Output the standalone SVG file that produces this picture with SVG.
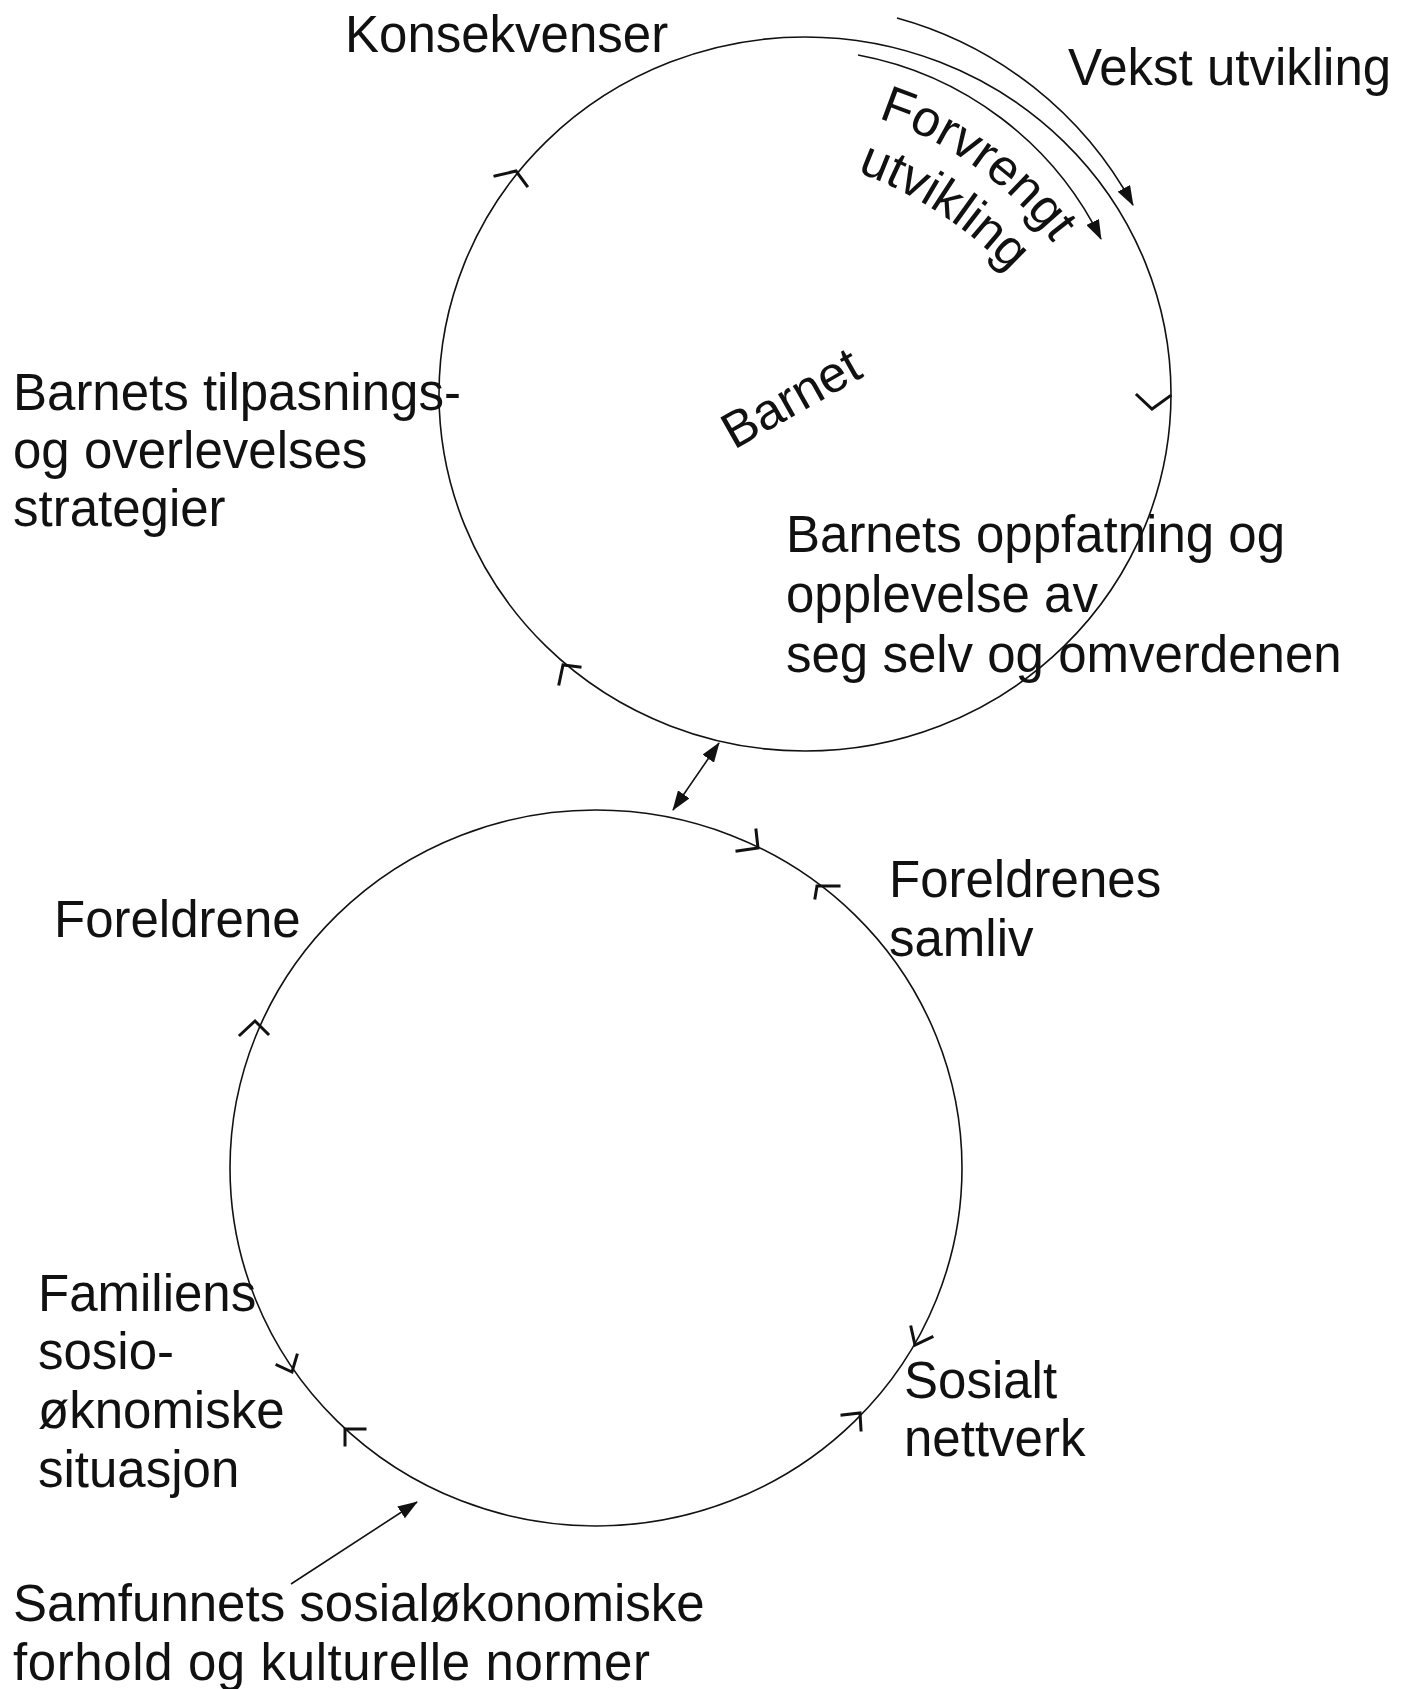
<svg xmlns="http://www.w3.org/2000/svg" width="1413" height="1689" viewBox="0 0 1413 1689">
<style>
.t{font-family:"Liberation Sans",Arial,sans-serif;font-size:51px;fill:#111}
.c{fill:none;stroke:#111;stroke-width:1.6}
.k{fill:none;stroke:#111;stroke-width:3;stroke-linecap:square;stroke-linejoin:miter}
.a{fill:none;stroke:#111;stroke-width:1.6}
</style>
<defs>
<marker id="ah" viewBox="0 0 20 14" refX="19" refY="7" markerWidth="20" markerHeight="14" markerUnits="userSpaceOnUse" orient="auto-start-reverse">
<path d="M0,0 L20,7 L0,14 Z" fill="#111"/>
</marker>
<path id="pF" d="M 878 118 A 357 357 0 0 1 1091.5 307"/>
<path id="pU" d="M 857 172 A 400 400 0 0 1 1055.5 330"/>
</defs>
<rect width="1413" height="1689" fill="#fff"/>
<g id="barnet-circle">
<ellipse class="c" cx="805" cy="394" rx="366" ry="357"/>
<text class="t" font-size="64" transform="translate(734,450) rotate(-29.5)">Barnet</text>
</g>
<g id="foreldre-circle">
<ellipse class="c" cx="596" cy="1168" rx="366" ry="358"/>
</g>
<g id="labels">
<text class="t" x="345" y="52">Konsekvenser</text>
<text class="t" x="1068" y="85">Vekst utvikling</text>
<text class="t"><textPath href="#pF">Forvrengt</textPath></text>
<text class="t"><textPath href="#pU">utvikling</textPath></text>
<text class="t" x="13" y="410">Barnets tilpasnings-</text>
<text class="t" x="13" y="468">og overlevelses</text>
<text class="t" x="13" y="526">strategier</text>
<text class="t" x="786" y="552">Barnets oppfatning og</text>
<text class="t" x="786" y="612">opplevelse av</text>
<text class="t" x="786" y="672">seg selv og omverdenen</text>
<text class="t" x="54" y="937">Foreldrene</text>
<text class="t" x="889" y="897">Foreldrenes</text>
<text class="t" x="889" y="956">samliv</text>
<text class="t" x="38" y="1311">Familiens</text>
<text class="t" x="38" y="1369">sosio-</text>
<text class="t" x="38" y="1428">øknomiske</text>
<text class="t" x="38" y="1487">situasjon</text>
<text class="t" x="904" y="1398">Sosialt</text>
<text class="t" x="904" y="1456">nettverk</text>
<text class="t" x="13" y="1621">Samfunnets sosialøkonomiske</text>
<text class="t" x="13" y="1680" letter-spacing="0.6">forhold og kulturelle normer</text>
</g>
<g id="connectors">
<path class="a" d="M 897 18 A 385 385 0 0 1 1133 205" marker-end="url(#ah)"/>
<path class="a" d="M 858 55 A 340 340 0 0 1 1101 239" marker-end="url(#ah)"/>
<line class="a" x1="719" y1="743" x2="673" y2="810" marker-start="url(#ah)" marker-end="url(#ah)"/>
<line class="a" x1="291" y1="1584" x2="417" y2="1502" marker-end="url(#ah)"/>
<polyline class="k" points="495,176 516,171 527,186"/>
<polyline class="k" points="1137,395 1152,409 1170,396"/>
<polyline class="k" points="580,667 563,665 559,684"/>
<polyline class="k" points="737,851 758,848 756,830"/>
<polyline class="k" points="839,886 817,886 815,898"/>
<polyline class="k" points="240,1035 255,1021 268,1034"/>
<polyline class="k" points="277,1365 292,1372 297,1355"/>
<polyline class="k" points="365,1429 345,1429 345,1445"/>
<polyline class="k" points="911,1327 915,1345 932,1337"/>
<polyline class="k" points="842,1415 860,1413 861,1430"/>
</g>
</svg>
